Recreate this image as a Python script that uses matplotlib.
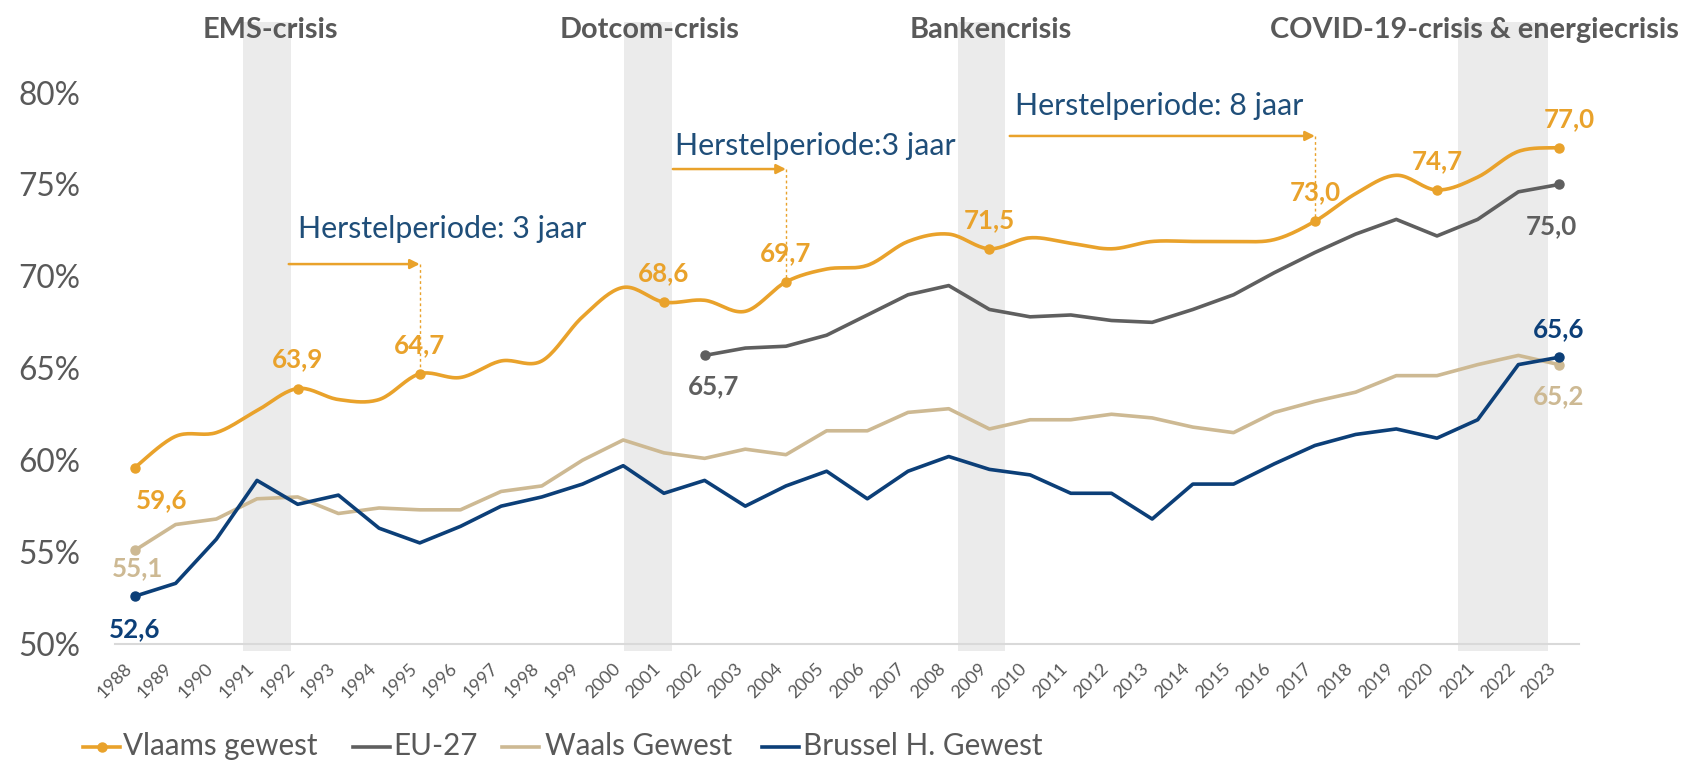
import numpy as np
import matplotlib
matplotlib.use("Agg")
import matplotlib.pyplot as plt
from matplotlib.lines import Line2D

plt.rcParams['font.family'] = ['Lato', 'DejaVu Sans']

years = list(range(1988, 2024))
vlaams = [59.6, 61.3, 61.5, 62.7, 63.9, 63.3, 63.3, 64.7, 64.5, 65.4, 65.4, 67.8,
          69.4, 68.6, 68.7, 68.1, 69.7, 70.4, 70.6, 71.9, 72.3, 71.5, 72.1, 71.8,
          71.5, 71.9, 71.9, 71.9, 72.0, 73.0, 74.5, 75.5, 74.7, 75.4, 76.8, 77.0]
eu_years = list(range(2002, 2024))
eu27 = [65.7, 66.1, 66.2, 66.8, 67.9, 69.0, 69.5, 68.2, 67.8, 67.9, 67.6, 67.5,
        68.2, 69.0, 70.2, 71.3, 72.3, 73.1, 72.2, 73.1, 74.6, 75.0]
waals = [55.1, 56.5, 56.8, 57.9, 58.0, 57.1, 57.4, 57.3, 57.3, 58.3, 58.6, 60.0,
         61.1, 60.4, 60.1, 60.6, 60.3, 61.6, 61.6, 62.6, 62.8, 61.7, 62.2, 62.2,
         62.5, 62.3, 61.8, 61.5, 62.6, 63.2, 63.7, 64.6, 64.6, 65.2, 65.7, 65.2]
brussel = [52.6, 53.3, 55.7, 58.9, 57.6, 58.1, 56.3, 55.5, 56.4, 57.5, 58.0, 58.7,
           59.7, 58.2, 58.9, 57.5, 58.6, 59.4, 57.9, 59.4, 60.2, 59.5, 59.2, 58.2,
           58.2, 56.8, 58.7, 58.7, 59.8, 60.8, 61.4, 61.7, 61.2, 62.2, 65.2, 65.6]

vlaams_marked = [1988, 1992, 1995, 2001, 2004, 2009, 2017, 2020, 2023]
eu_marked = [2002, 2023]
waals_marked = [1988, 2023]
brussel_marked = [1988, 2023]

crises = ["EMS-crisis", "Dotcom-crisis", "Bankencrisis", "COVID-19-crisis & energiecrisis"]
crisis_spans = [(1990.66, 1991.84), (2000.01, 2001.2), (2008.22, 2009.38), (2020.51, 2022.73)]
crisis_label_x = [1991.32, 2000.65, 2009.03, 2020.92]

recovery_texts = ["Herstelperiode: 3 jaar", "Herstelperiode:3 jaar", "Herstelperiode: 8 jaar"]
recovery_start = [1991.78, 2001.22, 2009.5]
recovery_end = [1995, 2004, 2017]
recovery_arrow_y = [70.67, 75.84, 77.64]
recovery_text_pos = [(1992.0, 72.58), (2001.27, 77.1), (2009.62, 79.29)]

legend_labels = ["Vlaams gewest", "EU-27", "Waals Gewest", "Brussel H. Gewest"]

c_vl = '#E9A22B'
c_eu = '#5F5F5F'
c_wa = '#CDB993'
c_br = '#0C3F78'
c_txt = '#595959'
c_blue_txt = '#1F4E79'

W, H = 1691, 762

def smooth(xs, ys, n=20):
    xs = np.asarray(xs, float); ys = np.asarray(ys, float)
    px = np.concatenate([[xs[0]], xs, [xs[-1]]])
    py = np.concatenate([[ys[0]], ys, [ys[-1]]])
    ox, oy = [], []
    t = np.linspace(0, 1, n, endpoint=False)
    for i in range(1, len(px) - 2):
        p0 = np.array([px[i], py[i]]); p3 = np.array([px[i+1], py[i+1]])
        c1 = p0 + (np.array([px[i+1], py[i+1]]) - np.array([px[i-1], py[i-1]])) / 6
        c2 = p3 - (np.array([px[i+2], py[i+2]]) - np.array([px[i], py[i]])) / 6
        b = ((1-t)**3)[:, None]*p0 + (3*(1-t)**2*t)[:, None]*c1 + (3*(1-t)*t**2)[:, None]*c2 + (t**3)[:, None]*p3
        ox.extend(b[:, 0]); oy.extend(b[:, 1])
    ox.append(xs[-1]); oy.append(ys[-1])
    return np.array(ox), np.array(oy)

fig = plt.figure(figsize=(W/100, H/100), dpi=100)
renderer = fig.canvas.get_renderer()

def fitted_size(txt, target_w, weight='normal', base=20):
    t = fig.text(0, 0, txt, fontsize=base, fontweight=weight)
    w = t.get_window_extent(renderer).width
    t.remove()
    return base * target_w / w

fs_crisis = 0.5 * (fitted_size("EMS-crisis", 137, 'bold') +
                   fitted_size("COVID-19-crisis & energiecrisis", 405, 'bold'))
fs_rec = fitted_size("Herstelperiode: 3 jaar", 290)
fs_lab = fitted_size("52,6", 51, 'bold')
fs_ytick = fitted_size("80%", 62)
fs_leg = fitted_size("Waals Gewest", 187)

ax = fig.add_axes([114.6/W, 1-644/H, (1579.4-114.6)/W, (644-22)/H])
ax.set_xlim(1987.5, 2023.5)
ax.set_ylim(50, 83.84)

for (a, b) in crisis_spans:
    ax.axvspan(a, b, ymin=-0.012, ymax=1, color='#EBEBEB', lw=0, zorder=0, clip_on=False)

for name, xc in zip(crises, crisis_label_x):
    ax.text(xc, 83.4, name, ha='center', va='center', fontsize=fs_crisis, fontweight='bold',
            color=c_txt, zorder=5)

lw = 2.6
sx, sy = smooth(years, vlaams)
ax.plot(sx, sy, color=c_vl, lw=lw, zorder=3, solid_capstyle='round')
ax.plot(eu_years, eu27, color=c_eu, lw=lw, zorder=3)
ax.plot(years, waals, color=c_wa, lw=lw, zorder=3)
ax.plot(years, brussel, color=c_br, lw=lw, zorder=4)

def mark(xs_all, ys_all, sel, color, z):
    xs = [x for x in xs_all if x in sel]
    ys = [ys_all[xs_all.index(x)] for x in xs]
    ax.plot(xs, ys, 'o', color=color, ms=6.5, zorder=z)

mark(years, vlaams, vlaams_marked, c_vl, 4)
mark(eu_years, eu27, eu_marked, c_eu, 4)
mark(years, waals, waals_marked, c_wa, 4)
mark(years, brussel, brussel_marked, c_br, 5)

def lab(x, y, txt, color, dx, dy):
    ax.annotate(txt, (x, y), xytext=(dx, dy), textcoords='offset pixels',
                ha='center', va='center', fontsize=fs_lab, fontweight='bold', color=color, zorder=6)

def fmt(v):
    return f"{v:.1f}".replace('.', ',')

for yr in vlaams_marked:
    v = vlaams[years.index(yr)]
    if yr == 1988:
        lab(yr, v, fmt(v), c_vl, 27, -33)
    elif yr == 2023:
        lab(yr, v, fmt(v), c_vl, 10, 29)
    else:
        lab(yr, v, fmt(v), c_vl, 0, 29)
lab(2002, eu27[0], fmt(eu27[0]), c_eu, 9, -31)
lab(2023, eu27[-1], fmt(eu27[-1]), c_eu, -8, -42)
lab(1988, waals[0], fmt(waals[0]), c_wa, 3, -18)
lab(2023, waals[-1], fmt(waals[-1]), c_wa, 0, -32)
lab(1988, brussel[0], fmt(brussel[0]), c_br, 0, -33)
lab(2023, brussel[-1], fmt(brussel[-1]), c_br, 0, 28)

for txt, xs, xe, ya, (tx, ty) in zip(recovery_texts, recovery_start, recovery_end,
                                      recovery_arrow_y, recovery_text_pos):
    ax.annotate('', xy=(xe, ya), xytext=(xs, ya),
                arrowprops=dict(arrowstyle='-|>', color=c_vl, lw=1.8, mutation_scale=14,
                                shrinkA=0, shrinkB=0), zorder=4)
    yv = vlaams[years.index(xe)]
    ax.plot([xe, xe], [ya, yv], color=c_vl, lw=1.0, ls=(0, (2, 2)), zorder=2)
    ax.text(tx, ty, txt, ha='left', va='center', fontsize=fs_rec, color=c_blue_txt, zorder=5)

yt = [50, 55, 60, 65, 70, 75, 80]
ax.set_yticks(yt)
ax.set_yticklabels([f"{v}%" for v in yt], fontsize=fs_ytick, color=c_txt)
ax.set_xticks(years)
ax.set_xticklabels([str(y) for y in years], rotation=45, ha='right', va='top',
                   fontsize=13, color=c_txt)
ax.tick_params(axis='y', length=0, pad=(114.6 - 80) * 0.72)
ax.tick_params(axis='x', length=0, pad=12)
for s in ['left', 'right', 'top']:
    ax.spines[s].set_visible(False)
ax.spines['bottom'].set_color('#D9D9D9')
ax.spines['bottom'].set_linewidth(1.5)
ax.spines['bottom'].set_zorder(1)

# legend built in figure pixel positions
leg_colors = [c_vl, c_eu, c_wa, c_br]
leg_handle_x = [83, 353, 502, 762]
leg_text_x = [123, 393, 545, 803]
leg_y = 1 - 747/H
for i, (lbl, col) in enumerate(zip(legend_labels, leg_colors)):
    x0 = leg_handle_x[i] / W; x1 = (leg_handle_x[i] + 37) / W
    fig.add_artist(Line2D([x0, x1], [leg_y, leg_y], transform=fig.transFigure,
                          color=col, lw=lw))
    if i == 0:
        fig.add_artist(Line2D([(x0 + x1) / 2], [leg_y], transform=fig.transFigure,
                              color=col, marker='o', ms=6.5, lw=0))
    fig.text(leg_text_x[i] / W, 1 - 746/H, lbl, ha='left', va='center',
             fontsize=fs_leg, color=c_txt)

fig.savefig('out.png', dpi=100)
